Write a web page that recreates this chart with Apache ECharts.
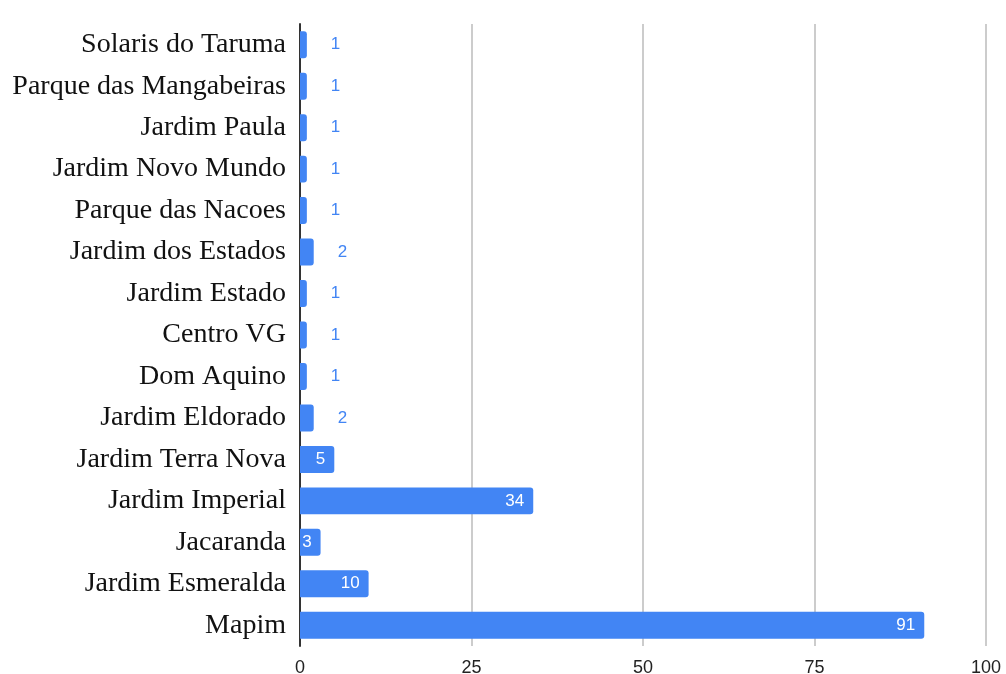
<!DOCTYPE html>
<html>
<head>
<meta charset="utf-8">
<script src="https://cdn.jsdelivr.net/npm/echarts@6/dist/echarts.min.js"></script>
<style>html,body{margin:0;padding:0;background:#fff;}#c{width:1006px;height:674px;}</style>
</head>
<body>
<div id="c"></div>
<script>
const categories = ["Solaris do Taruma","Parque das Mangabeiras","Jardim Paula","Jardim Novo Mundo","Parque das Nacoes","Jardim dos Estados","Jardim Estado","Centro VG","Dom Aquino","Jardim Eldorado","Jardim Terra Nova","Jardim Imperial","Jacaranda","Jardim Esmeralda","Mapim"];
const values = [1,1,1,1,1,2,1,1,1,2,5,34,3,10,91];
const xTicks = [0,25,50,75,100];

const BLUE = '#4285F4';
const chart = echarts.init(document.getElementById('c'));
const data = values.map(v => ({
  value: v,
  label: v >= 3
    ? {position: 'insideRight', distance: 9, color: '#fff'}
    : {position: 'right', distance: 24, color: BLUE}
}));
chart.setOption({
  animation: false,
  grid: {left: 300, right: 20, top: 24, bottom: 28, containLabel: false, outerBoundsMode: 'none'},
  xAxis: {
    type: 'value', min: xTicks[0], max: xTicks[xTicks.length-1], interval: 25,
    axisLine: {show: false}, axisTick: {show: false},
    splitLine: {show: true, lineStyle: {color: '#cccccc', width: 2}},
    axisLabel: {fontFamily: 'Liberation Sans, Arial, sans-serif', fontSize: 18, color: '#222', margin: 13}
  },
  yAxis: {
    type: 'category', data: categories, inverse: true,
    axisLine: {show: true, lineStyle: {color: '#333', width: 2}},
    axisTick: {show: false},
    axisLabel: {fontFamily: 'Liberation Serif, Times New Roman, serif', fontSize: 28, color: '#111', margin: 14}
  },
  series: [{
    type: 'bar', data: data, barCategoryGap: '35%',
    itemStyle: {color: BLUE, borderRadius: [0,3,3,0]},
    label: {show: true, fontFamily: 'Liberation Sans, Arial, sans-serif', fontSize: 17}
  }]
});
</script>
</body>
</html>
